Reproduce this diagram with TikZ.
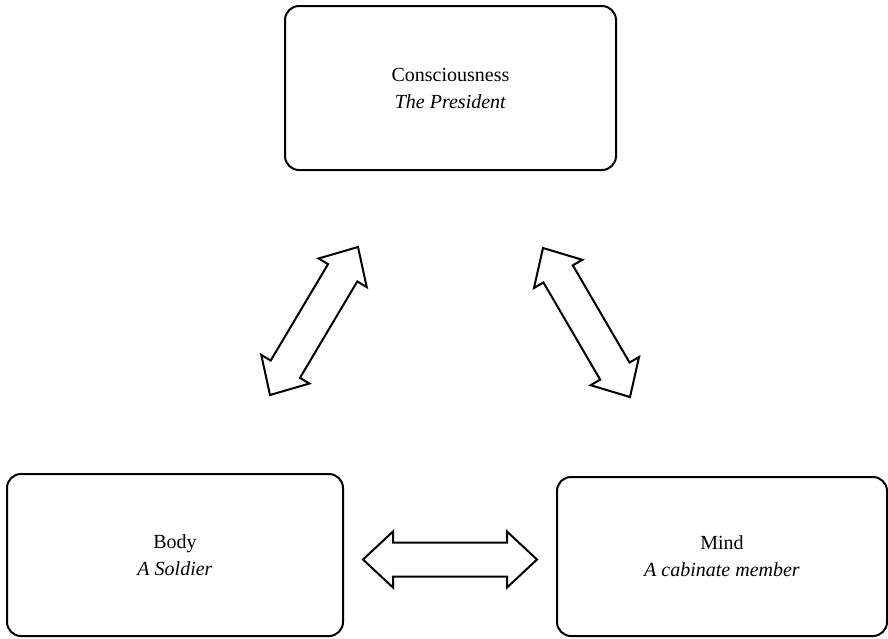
\documentclass[tikz,border=0pt]{standalone}
\usepackage{fontspec}
\setmainfont{Liberation Serif}
\usetikzlibrary{calc}

\tikzset{
  card/.style={draw, line width=2pt, rounded corners=14pt, align=center,
    font=\fontsize{20}{27}\selectfont, inner sep=0pt},
  fatarrow/.style={draw, line width=2pt, line join=miter, fill=white},
}

% Hollow two-headed block arrow between two named coordinates
\newcommand\twowayarrow[2]{%
  \draw[fatarrow]
    (#1)
    -- ($(#1)!30pt!(#2)!28pt!90:(#2)$)
    -- ($(#1)!30pt!(#2)!17pt!90:(#2)$)
    -- ($(#2)!30pt!(#1)!17pt!-90:(#1)$)
    -- ($(#2)!30pt!(#1)!28pt!-90:(#1)$)
    -- (#2)
    -- ($(#2)!30pt!(#1)!28pt!90:(#1)$)
    -- ($(#2)!30pt!(#1)!17pt!90:(#1)$)
    -- ($(#1)!30pt!(#2)!17pt!-90:(#2)$)
    -- ($(#1)!30pt!(#2)!28pt!-90:(#2)$)
    -- cycle;%
}

\begin{document}
\begin{tikzpicture}[x=1pt, y=-1pt]
  \useasboundingbox (0,0) rectangle (888,638);

  \node[card, minimum width=331pt, minimum height=164pt] (cons) at (450.5,88)
    {Consciousness\\\textit{The President}};
  \node[card, minimum width=336pt, minimum height=162pt] (body) at (175,555)
    {Body\\\textit{A Soldier}};
  \node[card, minimum width=330pt, minimum height=159pt] (mind) at (722,556.5)
    {Mind\\\textit{A cabinate member}};

  % arrow end points
  \coordinate (bodyUp) at (270,395);
  \coordinate (consLeft) at (358,247);
  \coordinate (consRight) at (543,248);
  \coordinate (mindUp) at (630,397);
  \coordinate (bodySide) at (363,559.5);
  \coordinate (mindSide) at (537,559.5);

  \twowayarrow{bodyUp}{consLeft}
  \twowayarrow{consRight}{mindUp}
  \twowayarrow{bodySide}{mindSide}
\end{tikzpicture}
\end{document}
